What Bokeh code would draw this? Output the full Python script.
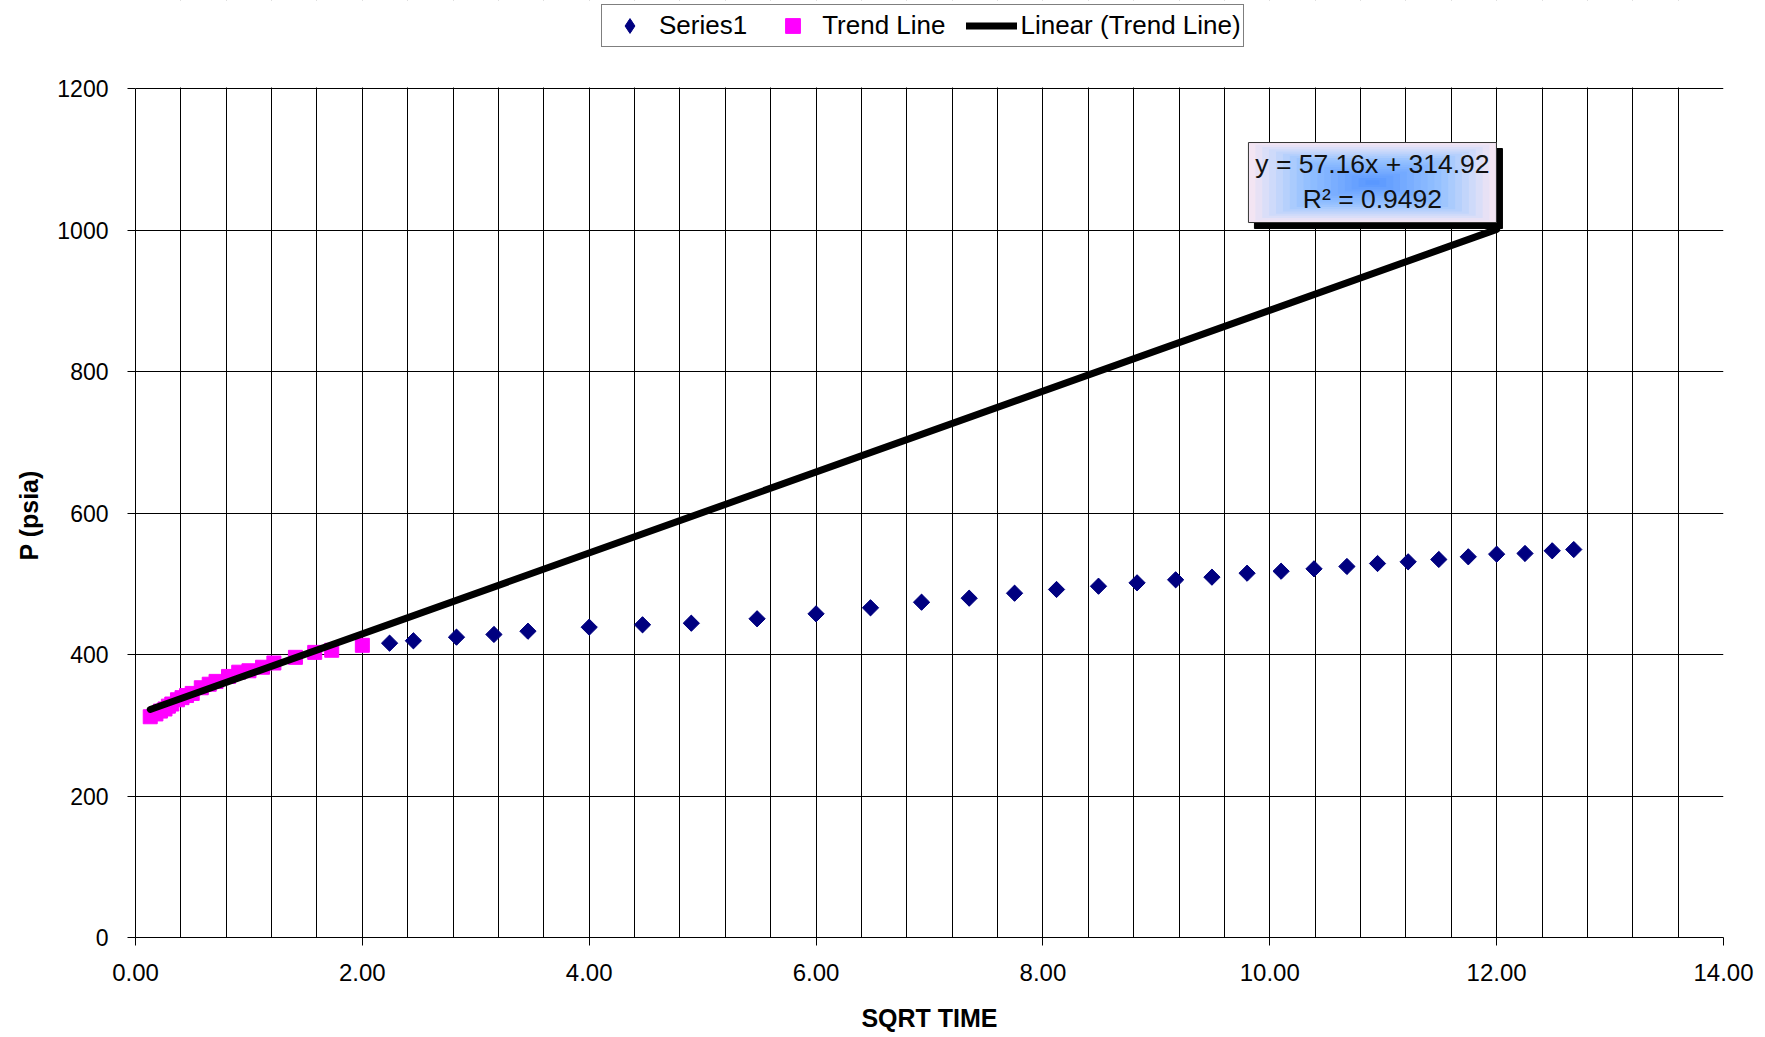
import numpy as np
from bokeh.plotting import figure
from bokeh.models import (Range1d, FixedTicker, NumeralTickFormatter,
                          Legend, LegendItem, Label, BoxAnnotation, Title)
from bokeh.embed import file_html
from bokeh.resources import INLINE

# ---------------- data ----------------
series1_x = [2.24, 2.45, 2.83, 3.16, 3.46, 4.00, 4.47, 4.90, 5.48, 6.00, 6.48,
             6.93, 7.35, 7.75, 8.12, 8.49, 8.83, 9.17, 9.49, 9.80, 10.10, 10.39, 10.68,
             10.95, 11.22, 11.49, 11.75, 12.00, 12.25, 12.49, 12.68]
series1_y = [416.0, 419.4, 424.5, 428.3, 432.9, 438.6, 442.0, 444.2, 450.5, 457.5, 466.0,
             473.9, 479.6, 486.6, 491.9, 496.5, 501.3, 505.6, 509.3, 514.9, 517.7, 521.1, 524.4,
             528.6, 531.0, 534.3, 538.1, 541.8, 542.8, 546.6, 548.4]

trend_x = [0.13, 0.18, 0.22, 0.26, 0.29, 0.32, 0.37, 0.41, 0.45, 0.50, 0.58,
           0.65, 0.71, 0.82, 0.91, 1.00, 1.12, 1.22, 1.41, 1.58, 1.73, 2.00]
trend_y = [312, 316, 320, 323, 327, 330, 336, 339, 342, 345, 353,
           358, 362, 369, 375, 377, 382, 388, 396, 403, 406, 413]

fit_slope = 57.16
fit_intercept = 314.92
fit_r2 = 0.9492
fit_x = [0.13, 12.00]          # first trend point to the forecast end
fit_y = [fit_slope * v + fit_intercept for v in fit_x]

x_ticks = [0, 2, 4, 6, 8, 10, 12, 14]
y_ticks = [0, 200, 400, 600, 800, 1000, 1200]
x_grid = [round(0.4 * i, 1) for i in range(36)]   # vertical gridlines every 0.4

# ---------------- layout constants ----------------
W, H = 1765, 1037
LEFT, RIGHT, TOP, BOTTOM = 135, 42, 88, 100
FW, FH = W - LEFT - RIGHT, H - TOP - BOTTOM      # plot area (0..14, 0..1200)
XMAX, YMAX = 14, 1200
px_x = XMAX / FW      # data units per screen px
px_y = YMAX / FH
YTOP = YMAX + TOP * px_y   # frame reaches the top of the canvas (room for the legend)

FONT = "Liberation Sans"

p = figure(width=W, height=H, x_range=Range1d(0, XMAX), y_range=Range1d(0, YTOP),
           output_backend="svg", toolbar_location=None, title=None,
           min_border_left=LEFT, min_border_right=RIGHT,
           min_border_top=0, min_border_bottom=BOTTOM)
p.background_fill_color = "white"
p.border_fill_color = "white"
p.outline_line_color = None

p.xaxis.ticker = FixedTicker(ticks=x_ticks)
p.xaxis.formatter = NumeralTickFormatter(format="0.00")
p.yaxis.ticker = FixedTicker(ticks=y_ticks)
p.yaxis.bounds = (0, YMAX)

for ax in (p.xaxis[0], p.yaxis[0]):
    ax.major_tick_in = 0
    ax.major_tick_out = 8
    ax.minor_tick_line_color = None
    ax.axis_line_color = "black"
    ax.major_tick_line_color = "black"
    ax.major_label_text_font = FONT
    ax.major_label_text_color = "black"
    ax.axis_label_text_font = FONT
    ax.axis_label_text_font_style = "bold"
    ax.axis_label_text_font_size = "25px"
    ax.axis_label_text_color = "black"

p.xaxis.major_label_text_font_size = "24px"
p.yaxis.major_label_text_font_size = "23px"
p.xaxis.major_label_standoff = 18
p.yaxis.major_label_standoff = 19
p.xaxis.axis_label = "SQRT TIME"
p.xaxis.axis_label_standoff = 20

# y-axis title, centred on the 0..1200 plot area
p.add_layout(Title(text="P (psia)", align="left", offset=377, standoff=24,
                   text_font=FONT, text_font_size="25px", text_font_style="bold",
                   text_color="black"), "left")

p.xgrid.ticker = FixedTicker(ticks=x_grid)
p.xgrid.grid_line_color = "black"
p.ygrid.grid_line_color = "black"
p.xgrid.grid_line_width = 1
p.ygrid.grid_line_width = 1

NAVY = "#000080"
MAGENTA = "#ff00ff"

# diamond glyph (used for the legend symbol), covered by the rotated squares
r_leg = p.scatter(series1_x, series1_y, marker="diamond", size=15,
                  fill_color=NAVY, line_color=NAVY)
r_series = p.scatter(series1_x, series1_y, marker="square", angle=np.pi / 4, size=11.5,
                     fill_color=NAVY, line_color=NAVY)
r_trend = p.scatter(trend_x, trend_y, marker="square", size=14,
                    fill_color=MAGENTA, line_color=MAGENTA)
r_fit = p.line(fit_x, fit_y, line_width=7, line_color="black", line_cap="round")

# ---------------- trendline label box ----------------
box_cx, box_cy = 10.905, 1067.1
box_w, box_h = 248, 80
sh = 6
p.rect(x=[box_cx + sh * px_x], y=[box_cy - sh * px_y], width=box_w * px_x, height=box_h * px_y,
       fill_color="black", line_color="black")

stops = [(0.0, (243, 229, 243)), (0.18, (205, 218, 250)), (0.45, (150, 194, 255)), (1.0, (90, 152, 255))]

def grad(t):
    for (t0, c0), (t1, c1) in zip(stops[:-1], stops[1:]):
        if t <= t1:
            f = (t - t0) / (t1 - t0)
            c = tuple(int(round(a + (b - a) * f)) for a, b in zip(c0, c1))
            return "#%02x%02x%02x" % c
    return "#%02x%02x%02x" % stops[-1][1]

N = 18
for k in range(N):
    f = 1 - k / N
    p.rect(x=[box_cx], y=[box_cy], width=box_w * f * px_x, height=box_h * f * px_y,
           fill_color=grad(k / (N - 1)), line_color=None)
p.rect(x=[box_cx], y=[box_cy], width=box_w * px_x, height=box_h * px_y,
       fill_color=None, line_color="#333333", line_width=1)

p.add_layout(Label(x=box_cx, y=box_cy, y_offset=19, text=f"y = {fit_slope:.2f}x + {fit_intercept:.2f}",
                   text_align="center", text_baseline="middle", text_font=FONT,
                   text_font_size="26.5px", text_color="#111111"))
p.add_layout(Label(x=box_cx, y=box_cy, y_offset=-16, text=f"R\u00b2 = {fit_r2:.4f}",
                   text_align="center", text_baseline="middle", text_font=FONT,
                   text_font_size="26.5px", text_color="#111111"))

# white band above the plot area (hides gridlines there); legend sits on it
p.add_layout(BoxAnnotation(bottom=YMAX + 1.0 * px_y, top=YTOP + 30 * px_y,
                           left=-1.0, right=XMAX + 1.0,
                           fill_color="white", fill_alpha=1.0, line_color=None))

legend = Legend(items=[LegendItem(label="Series1", renderers=[r_leg]),
                       LegendItem(label="Trend Line", renderers=[r_trend]),
                       LegendItem(label="Linear (Trend Line)", renderers=[r_fit])],
                orientation="horizontal", location=(466, FH + 41),
                glyph_width=51, glyph_height=37, label_standoff=4, spacing=20,
                padding=2, margin=0,
                border_line_color="black", border_line_width=1,
                background_fill_color="white", background_fill_alpha=1,
                label_text_font=FONT, label_text_font_size="26px", label_text_color="black")
p.add_layout(legend)

open("out.html", "w").write(file_html(p, INLINE))
